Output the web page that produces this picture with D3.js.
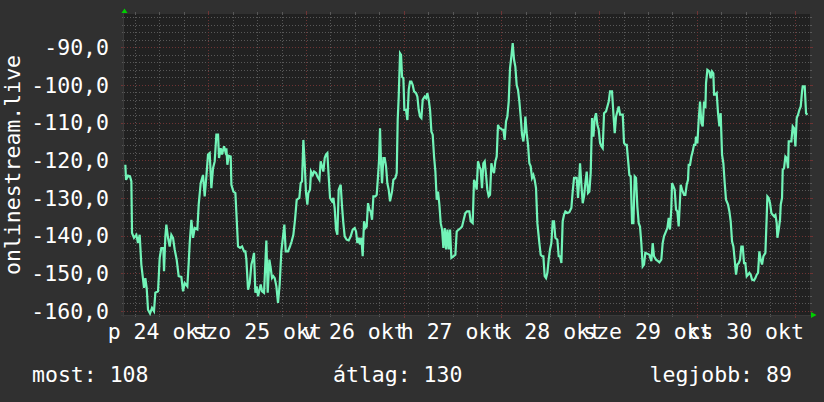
<!DOCTYPE html>
<html><head><meta charset="utf-8">
<script src="https://cdn.jsdelivr.net/npm/d3@7"></script>
<style>html,body{margin:0;padding:0;background:#303030;}svg{display:block}</style>
</head><body><svg id="c" width="824" height="402"></svg>
<script>
// hours since 2025-10-24 00:00
const hours = [3.62,3.79,4.28,4.77,5.10,5.26,5.75,6.32,6.73,7.14,7.55,8.21,8.53,8.86,9.19,9.68,10.17,10.66,10.99,11.65,12.06,12.46,12.96,13.12,13.45,13.69,14.10,14.51,14.92,15.33,15.74,16.23,16.72,17.38,17.79,18.20,18.85,19.18,19.43,19.84,20.25,20.66,21.31,21.64,22.13,22.70,23.11,23.52,23.93,24.34,24.75,25.16,25.57,25.98,26.39,26.63,27.04,27.37,27.86,28.19,28.44,28.68,29.01,29.50,29.67,30.16,30.65,30.98,31.30,31.80,32.29,32.78,33.11,33.35,33.76,34.17,34.58,34.91,35.23,35.56,35.89,36.22,36.87,37.20,37.69,38.26,38.59,39.00,39.32,39.65,39.98,40.31,40.72,41.12,41.53,41.94,42.35,42.68,43.01,43.58,44.07,
44.48,44.89,45.30,45.71,46.36,46.69,47.02,47.35,47.67,48.00,48.33,48.57,48.98,49.23,49.64,49.97,50.46,50.79,51.28,51.60,51.93,52.26,52.59,52.91,53.24,53.57,53.90,54.39,54.72,55.04,55.37,55.70,56.03,56.52,56.85,57.17,57.50,57.99,58.48,58.98,59.47,59.96,60.29,60.61,60.94,61.27,61.60,61.92,62.25,62.58,62.91,63.23,63.56,63.89,64.22,64.55,65.04,65.36,65.69,65.94,66.18,66.43,66.67,67.00,67.33,67.66,67.98,68.31,68.64,69.13,69.46,69.95,70.28,70.52,70.77,71.10,71.34,71.59,71.92,72.16,72.57,72.90,73.23,73.55,73.88,74.21,74.54,75.03,75.36,75.68,76.01,76.34,76.67,77.16,77.49,77.81,78.14,78.47,78.80,79.12,79.45,79.78,80.11,80.43,80.76,81.09,81.42,81.74,82.07,82.40,82.73,83.05,83.38,83.71,84.20,84.69,85.02,85.51,86.00,86.33,
86.73,87.14,87.55,88.12,88.45,88.94,89.27,89.60,89.92,90.25,90.58,90.91,91.23,91.56,91.89,92.22,92.54,92.87,93.20,93.53,93.85,94.18,94.51,94.84,95.16,95.49,95.82,96.15,96.48,96.80,97.13,97.46,97.79,98.11,98.44,98.77,99.10,99.42,99.75,100.08,100.41,100.73,101.06,101.39,101.72,101.88,102.21,102.54,102.86,103.19,103.52,103.85,104.17,104.50,104.83,105.32,105.65,105.98,106.30,106.63,106.96,107.29,107.61,107.94,108.27,108.60,108.92,109.25,109.74,110.07,110.40,110.73,111.05,111.38,111.71,112.20,112.69,113.18,113.51,113.84,114.17,114.49,114.82,115.15,115.31,115.64,115.97,116.30,116.62,116.95,117.28,117.61,117.93,118.26,118.59,118.92,119.24,119.57,119.90,120.23,120.55,120.88,121.21,121.70,122.03,122.36,122.68,123.17,123.50,123.83,124.16,124.49,124.81,125.14,125.47,125.80,126.12,126.45,126.78,127.11,127.43,127.76,128.09,128.42,128.74,
129.06,129.39,129.72,130.04,130.37,130.70,131.03,131.35,131.85,132.34,132.83,133.16,133.48,133.97,134.47,134.79,135.28,135.61,135.94,136.43,136.76,137.09,137.41,137.74,137.91,138.23,138.56,138.89,139.22,139.54,139.87,140.04,140.36,140.86,141.18,141.51,141.84,142.00,142.33,142.66,142.98,143.31,143.64,143.80,144.13,144.46,144.79,145.11,145.44,145.77,146.10,146.26,146.59,147.08,147.41,147.73,148.06,148.23,148.55,148.88,149.21,149.54,149.86,150.19,150.52,150.85,151.17,151.67,152.00,152.32,152.65,152.98,153.30,153.63,153.96,154.29,154.61,154.94,155.27,155.60,155.92,156.25,156.58,156.91,157.24,157.56,158.05,158.38,158.71,159.04,159.36,159.69,160.02,160.35,160.84,161.17,161.33,161.66,161.99,162.31,162.64,162.97,163.30,163.62,163.79,164.12,164.44,164.61,164.93,165.10,165.43,165.75,166.08,166.41,166.57,166.90,167.23,167.55,167.88,168.21,168.54,168.87,169.19,169.52,169.85,170.01,170.50,170.83,171.16];
const values = [-121.2,-125.2,-124.1,-124.3,-125.6,-139.3,-140.6,-139.8,-142.0,-139.8,-147.7,-153.9,-151.3,-153.9,-159.7,-160.7,-159.2,-160.1,-155.2,-154.8,-145.9,-143.3,-143.3,-149.5,-140.2,-137.1,-140.6,-142.9,-139.8,-140.6,-143.7,-146.4,-150.8,-151.0,-154.8,-152.6,-153.5,-147.3,-142.0,-135.8,-140.6,-138.0,-138.4,-131.8,-126.1,-123.9,-129.6,-124.3,-118.5,-118.1,-127.4,-122.1,-120.3,-113.2,-113.2,-119.4,-116.8,-118.5,-116.3,-117.7,-116.8,-121.2,-118.8,-119.0,-126.5,-128.3,-128.7,-135.8,-142.9,-143.3,-142.9,-144.2,-144.2,-146.4,-154.4,-152.6,-147.7,-146.4,-144.6,-155.2,-153.5,-156.1,-153.0,-154.8,-155.2,-141.3,-155.2,-146.4,-148.6,-151.3,-150.8,-151.3,-153.5,-157.9,-153.0,-144.2,-140.2,-137.1,-144.2,-144.2,-142.9,
-141.5,-139.8,-135.8,-130.5,-130.0,-126.1,-125.6,-114.6,-120.8,-128.7,-131.8,-128.7,-127.8,-123.0,-123.9,-123.0,-123.4,-124.3,-125.2,-120.3,-121.6,-123.0,-119.4,-118.5,-118.1,-124.3,-130.0,-130.9,-130.0,-132.7,-138.4,-139.8,-127.8,-126.5,-132.3,-136.7,-140.2,-141.1,-141.3,-140.2,-138.4,-138.0,-138.9,-142.0,-140.6,-142.4,-140.6,-145.5,-136.2,-138.0,-137.6,-131.4,-133.1,-133.6,-135.8,-129.6,-129.6,-129.2,-124.3,-119.9,-111.5,-120.8,-126.1,-119.4,-119.4,-121.6,-126.1,-127.8,-130.9,-128.3,-125.2,-124.7,-123.4,-109.3,-103.1,-91.6,-92.0,-97.8,-98.2,-106.6,-106.6,-109.3,-101.3,-99.1,-99.1,-100.0,-101.7,-102.2,-103.1,-106.6,-108.4,-108.8,-103.9,-103.1,-103.5,-102.2,-103.9,-106.6,-112.4,-113.2,-119.0,-123.0,-130.5,-128.3,-131.8,-136.7,-138.4,-143.3,-138.0,-143.7,-138.4,-143.7,-138.4,-145.9,-145.5,-145.1,-138.9,-138.4,-138.0,-137.6,
-135.8,-134.0,-133.6,-133.6,-136.2,-136.7,-125.2,-126.1,-127.8,-120.3,-121.6,-122.5,-127.4,-120.8,-120.3,-123.9,-127.8,-129.6,-129.2,-120.8,-122.5,-123.4,-120.3,-119.0,-110.6,-111.5,-111.5,-111.9,-111.9,-114.6,-109.7,-108.4,-104.4,-95.6,-92.5,-88.9,-93.3,-95.1,-100.0,-101.3,-104.4,-108.4,-113.2,-115.0,-111.9,-108.4,-112.8,-115.9,-120.8,-121.6,-124.7,-123.9,-125.2,-127.4,-136.7,-142.0,-145.1,-145.5,-145.5,-150.8,-151.3,-149.9,-146.4,-143.7,-142.0,-136.2,-136.2,-140.6,-141.1,-145.5,-145.5,-147.3,-136.2,-134.5,-133.6,-134.0,-133.8,-132.7,-128.3,-124.7,-124.7,-124.7,-130.0,-124.3,-120.8,-126.5,-131.4,-129.6,-126.1,-123.0,-128.7,-128.3,-123.4,-108.8,-113.7,-108.8,-107.5,-110.6,-111.9,-115.4,-116.3,-116.8,-107.5,-107.0,-105.7,-104.4,-101.7,-101.7,-107.5,-112.8,-108.4,-107.0,-105.7,-107.9,-107.9,-107.9,-115.4,-115.9,-115.9,-119.9,-123.9,-124.3,-136.7,-136.7,-124.3,
-124.7,-132.3,-136.7,-137.6,-142.0,-148.2,-147.7,-144.6,-144.8,-145.1,-146.8,-142.0,-145.5,-146.4,-146.8,-147.1,-146.4,-142.0,-140.2,-138.9,-138.0,-135.3,-138.4,-132.7,-126.1,-126.9,-127.8,-133.1,-133.6,-137.6,-130.5,-126.5,-127.8,-129.2,-129.2,-126.5,-125.2,-121.2,-121.2,-119.0,-117.7,-115.9,-115.9,-113.7,-115.5,-109.3,-104.4,-110.1,-111.0,-104.4,-106.2,-99.5,-96.0,-96.4,-98.2,-96.4,-96.9,-102.6,-102.6,-102.2,-107.5,-111.0,-107.5,-118.5,-120.8,-126.1,-130.5,-131.8,-133.6,-136.2,-141.5,-142.9,-146.4,-150.4,-147.7,-147.3,-146.4,-142.9,-142.9,-147.3,-147.3,-150.8,-150.4,-149.9,-150.4,-151.7,-151.9,-151.3,-150.4,-149.9,-144.2,-146.4,-147.7,-145.5,-144.6,-134.9,-129.6,-130.0,-131.4,-134.0,-134.5,-134.9,-134.5,-136.7,-140.6,-138.4,-135.8,-131.8,-130.0,-122.5,-122.1,-119.0,-119.4,-122.1,-115.0,-115.0,-115.0,-111.0,-111.5,-116.3,-108.8,-107.9,-106.6,-105.7,-101.7,-100.4,-100.4,-107.5,-107.9];
const dayLabels = ["p 24 okt","szo 25 okt","v 26 okt","h 27 okt","k 28 okt","sze 29 okt","cs 30 okt"];
const labelDays = [24,25,26,27,28,29,30];
const yTickValues = [-160,-150,-140,-130,-120,-110,-100,-90];
const yDomain = [-161.1,-81.15];
const hourDomain = [3.29,171.8];
const legendLabels = ["most: 108","átlag: 130","legjobb: 89"];
const yTitle = "onlinestream.live";

const W=824,H=402, L=124, R=810, T=14, B=315;
const FONT = "'DejaVu Sans Mono', monospace";
const base = Date.UTC(2025,9,24);
const toDate = h => new Date(base + h*3600000);
const x = d3.scaleUtc().domain(hourDomain.map(toDate)).range([L,R]);
const y = d3.scaleLinear().domain(yDomain).range([B,T]);
const svg = d3.select("#c");
svg.append("rect").attr("width",W).attr("height",H).attr("fill","#303030");
svg.append("rect").attr("x",L).attr("y",T).attr("width",R-L).attr("height",B-T).attr("fill","#212121");

const minorCol="#585858", majorCol="#6e3434";
const [d0,d1]=x.domain();
const vMinor = d3.utcHour.every(6).range(d0,d1).filter(d=>d.getUTCHours()!==0);
const vMajor = d3.utcDay.range(d0,d1);
const hMinor = d3.range(-160,-81,2).filter(v=>v%10!==0);
const g = svg.append("g").attr("shape-rendering","crispEdges");
g.selectAll(".vm").data(vMinor).join("line").attr("x1",d=>Math.round(x(d))+0.5).attr("x2",d=>Math.round(x(d))+0.5)
 .attr("y1",T).attr("y2",B).attr("stroke",minorCol).attr("stroke-dasharray","1,2");
g.selectAll(".hm").data(hMinor).join("line").attr("y1",d=>Math.round(y(d))+0.5).attr("y2",d=>Math.round(y(d))+0.5)
 .attr("x1",L).attr("x2",R).attr("stroke",minorCol).attr("stroke-dasharray","1,2");
g.selectAll(".vM").data(vMajor).join("line").attr("x1",d=>Math.round(x(d))+0.5).attr("x2",d=>Math.round(x(d))+0.5)
 .attr("y1",T).attr("y2",B).attr("stroke",majorCol).attr("stroke-dasharray","1,2");
g.selectAll(".hM").data(yTickValues).join("line").attr("y1",d=>Math.round(y(d))+0.5).attr("y2",d=>Math.round(y(d))+0.5)
 .attr("x1",L).attr("x2",R).attr("stroke",majorCol).attr("stroke-dasharray","1,2");
// edge ticks
const tk = svg.append("g").attr("shape-rendering","crispEdges");
[[vMinor,minorCol,2],[vMajor,majorCol,3]].forEach(([arr,c,l])=>{
  tk.selectAll(null).data(arr).join("line").attr("x1",d=>Math.round(x(d))+0.5).attr("x2",d=>Math.round(x(d))+0.5)
   .attr("y1",T-l).attr("y2",T).attr("stroke",c);
  tk.selectAll(null).data(arr).join("line").attr("x1",d=>Math.round(x(d))+0.5).attr("x2",d=>Math.round(x(d))+0.5)
   .attr("y1",B).attr("y2",B+l).attr("stroke",c);
});
[[hMinor,minorCol,2],[yTickValues,majorCol,3]].forEach(([arr,c,l])=>{
  tk.selectAll(null).data(arr).join("line").attr("y1",d=>Math.round(y(d))+0.5).attr("y2",d=>Math.round(y(d))+0.5)
   .attr("x1",L-l).attr("x2",L).attr("stroke",c);
  tk.selectAll(null).data(arr).join("line").attr("y1",d=>Math.round(y(d))+0.5).attr("y2",d=>Math.round(y(d))+0.5)
   .attr("x1",R).attr("x2",R+l).attr("stroke",c);
});
// axis lines
svg.append("line").attr("x1",L-0.5).attr("x2",L-0.5).attr("y1",T-2).attr("y2",B+2).attr("stroke","#3a3a3a");
svg.append("line").attr("x1",L-3).attr("x2",R+2).attr("y1",B+0.5).attr("y2",B+0.5).attr("stroke","#3a3a3a");

// data line
const pts = hours.map((h,i)=>[toDate(h),values[i]]);
svg.append("path").datum(pts).attr("fill","none").attr("stroke","#72f4b8").attr("stroke-width",2.2)
  .attr("stroke-linejoin","miter").attr("d",d3.line().x(d=>x(d[0])).y(d=>y(d[1])));

// arrows
svg.append("path").attr("d",`M${L+0.5},8.5L${L-2.5},13L${L+3.5},13Z`).attr("fill","#00d000");
svg.append("path").attr("d",`M${R+1},312L${R+1},318L${R+6.5},315Z`).attr("fill","#00d000");

// text
const loc = d3.formatLocale({decimal:",",thousands:" ",grouping:[3],currency:["",""],minus:"-"});
const fmt = loc.format(".1f");
const txt = svg.append("g").attr("font-family",FONT).attr("font-size","21.5px").attr("fill","#ffffff");
txt.selectAll(".yl").data(yTickValues).join("text").attr("x",109).attr("y",d=>y(d)+7.8)
  .attr("text-anchor","end").text(d=>fmt(d));
txt.selectAll(".xl").data(labelDays).join("text").attr("x",d=>x(new Date(Date.UTC(2025,9,d,12))))
  .attr("y",338.5).attr("text-anchor","middle").text((d,i)=>dayLabels[i]);
txt.append("text").attr("transform",`translate(19.5,165) rotate(-90)`).attr("text-anchor","middle").text(yTitle);
const legX=[32,333,649.5];
txt.selectAll(".lg").data(legendLabels).join("text").attr("x",(d,i)=>legX[i]).attr("y",381.7).text(d=>d);
</script></body></html>
